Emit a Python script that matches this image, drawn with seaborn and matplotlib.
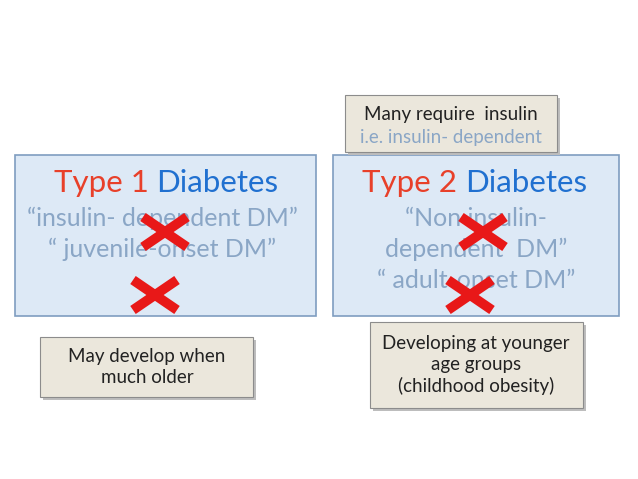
import matplotlib.pyplot as plt
import seaborn as sns
from matplotlib.patches import Rectangle

sns.set_style("white")
plt.rcParams["font.family"] = "Lato"

# --- content ---
TITLE_LEFT = ["Type 1", "Diabetes"]
TITLE_RIGHT = ["Type 2", "Diabetes"]
SUB_LEFT = ["\u201cinsulin- dependent DM\u201d", "\u201c juvenile-onset DM\u201d"]
SUB_RIGHT = ["\u201cNon insulin-", "dependent  DM\u201d", "\u201c adult-onset DM\u201d"]
NOTE_TOP = ["Many require  insulin", "i.e. insulin- dependent"]
NOTE_LEFT = "May develop when\nmuch older"
NOTE_RIGHT = "Developing at younger\nage groups\n(childhood obesity)"
CROSSES = [(165, 232), (155, 295), (483, 232), (470, 295)]

RED = "#e8402a"
BLUE = "#2070d0"
GREY_BLUE = "#8aa6c6"

fig = plt.figure(figsize=(6.38, 4.79), dpi=100)
ax = fig.add_axes([0, 0, 1, 1])
ax.set_xlim(0, 638)
ax.set_ylim(479, 0)
ax.axis("off")

# big blue boxes
for x0, w in [(15, 301), (333, 286)]:
    ax.add_patch(Rectangle((x0, 155), w, 161, facecolor="#dde9f6",
                           edgecolor="#7f9dc0", linewidth=1.2))

def note(x0, y0, w, h):
    ax.add_patch(Rectangle((x0 + 3, y0 + 3), w, h, facecolor="#bdbdbd",
                           edgecolor="none", zorder=2))
    ax.add_patch(Rectangle((x0, y0), w, h, facecolor="#ebe7dc",
                           edgecolor="#8c8c8c", linewidth=0.8, zorder=3))

note(345, 95, 212, 57)
note(40, 337, 213, 60)
note(370, 322, 213, 86)

# titles
ax.text(149, 183, TITLE_LEFT[0], color=RED, fontsize=22.5, ha="right", va="center")
ax.text(156, 183, TITLE_LEFT[1], color=BLUE, fontsize=22.5, ha="left", va="center")
ax.text(457, 183, TITLE_RIGHT[0], color=RED, fontsize=22.5, ha="right", va="center")
ax.text(465, 183, TITLE_RIGHT[1], color=BLUE, fontsize=22.5, ha="left", va="center")

for i, s in enumerate(SUB_LEFT):
    ax.text(162, 218 + 31 * i, s, color=GREY_BLUE, fontsize=18, ha="center", va="center")
for i, s in enumerate(SUB_RIGHT):
    ax.text(476, 218 + 31 * i, s, color=GREY_BLUE, fontsize=18, ha="center", va="center")

ax.text(451, 114, NOTE_TOP[0], color="#222222", fontsize=13.5, ha="center", va="center", zorder=4)
ax.text(451, 137, NOTE_TOP[1], color=GREY_BLUE, fontsize=13.5, ha="center", va="center", zorder=4)
ax.text(147, 367, NOTE_LEFT, color="#222222", fontsize=13.5, ha="center", va="center",
        linespacing=1.3, zorder=4)
ax.text(476, 365, NOTE_RIGHT, color="#222222", fontsize=13.5, ha="center", va="center",
        linespacing=1.3, zorder=4)

# red crosses
for cx, cy in CROSSES:
    for dy in (-1, 1):
        ax.plot([cx - 22, cx + 22], [cy - 15 * dy, cy + 15 * dy], color="#e81818",
                linewidth=7, solid_capstyle="butt", zorder=5)

fig.savefig("out.png", dpi=100)
